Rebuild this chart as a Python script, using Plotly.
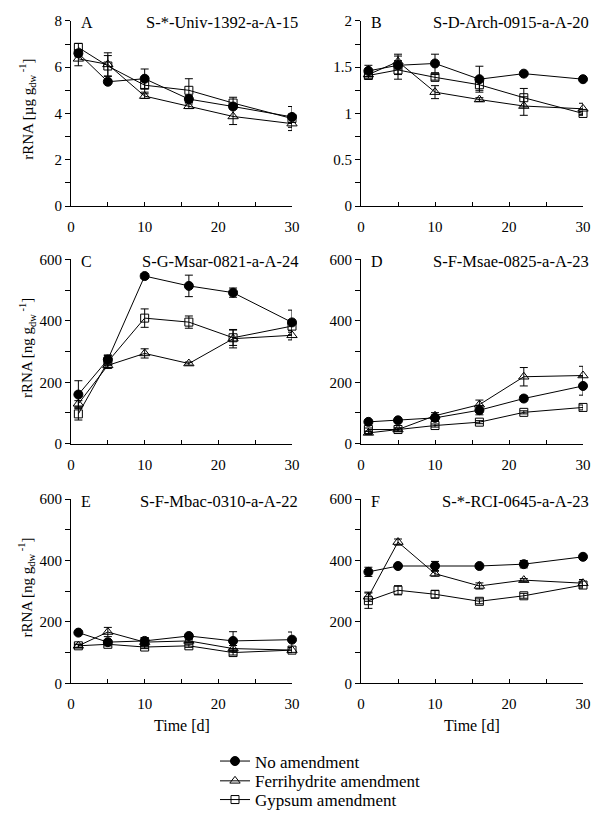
import plotly.graph_objects as go

days = [1, 5, 10, 16, 22, 30]
series_names = ["No amendment", "Ferrihydrite amendment", "Gypsum amendment"]
panel_letters = ["A", "B", "C", "D", "E", "F"]
panel_probes = ["S-*-Univ-1392-a-A-15", "S-D-Arch-0915-a-A-20", "S-G-Msar-0821-a-A-24",
                "S-F-Msae-0825-a-A-23", "S-F-Mbac-0310-a-A-22", "S-*-RCI-0645-a-A-23"]

# Panel A (ug / g dw)
A_none = [6.6, 5.37, 5.5, 4.62, 4.3, 3.85]
A_none_err = [0.15, 0.05, 0.42, 0.15, 0.1, 0.45]
A_ferri = [6.36, 6.12, 4.75, 4.31, 3.87, 3.56]
A_ferri_err = [0.3, 0.5, 0.1, 0.1, 0.35, 0.3]
A_gyps = [6.85, 6.05, 5.22, 5.0, 4.45, 3.78]
A_gyps_err = [0.18, 0.45, 0.3, 0.5, 0.25, 0.2]

# Panel B (ug / g dw)
B_none = [1.46, 1.52, 1.54, 1.37, 1.43, 1.37]
B_none_err = [0.06, 0.1, 0.1, 0.14, 0.02, 0.02]
B_ferri = [1.42, 1.56, 1.23, 1.15, 1.08, 1.05]
B_ferri_err = [0.02, 0.08, 0.07, 0.02, 0.1, 0.06]
B_gyps = [1.41, 1.47, 1.39, 1.31, 1.17, 1.0]
B_gyps_err = [0.03, 0.1, 0.03, 0.06, 0.1, 0.02]

# Panel C (ng / g dw)
C_none = [160, 274, 546, 514, 492, 395]
C_none_err = [45, 15, 8, 35, 15, 40]
C_ferri = [130, 255, 294, 261, 342, 353]
C_ferri_err = [10, 10, 15, 5, 30, 15]
C_gyps = [97, 267, 409, 396, 345, 383]
C_gyps_err = [20, 20, 30, 20, 25, 20]

# Panel D (ng / g dw)
D_none = [71, 76, 84, 109, 147, 188]
D_none_err = [5, 5, 10, 15, 8, 30]
D_ferri = [35, 46, 91, 127, 218, 222]
D_ferri_err = [5, 5, 10, 15, 30, 30]
D_gyps = [46, 46, 59, 70, 102, 118]
D_gyps_err = [5, 5, 5, 5, 5, 8]

# Panel E (ng / g dw)
E_none = [165, 134, 138, 154, 138, 142]
E_none_err = [5, 5, 10, 5, 30, 25]
E_ferri = [122, 167, 134, 138, 113, 108]
E_ferri_err = [5, 15, 15, 5, 10, 8]
E_gyps = [122, 127, 118, 122, 100, 108]
E_gyps_err = [5, 5, 5, 5, 8, 8]

# Panel F (ng / g dw)
F_none = [363, 382, 382, 382, 388, 412]
F_none_err = [15, 5, 15, 5, 12, 5]
F_ferri = [282, 460, 357, 317, 336, 326]
F_ferri_err = [15, 10, 8, 10, 5, 12]
F_gyps = [269, 303, 290, 267, 285, 320]
F_gyps_err = [25, 15, 12, 8, 8, 10]

y_max = [8, 2, 600, 600, 600, 600]
y_dtick = [2, 0.5, 200, 200, 200, 200]
y_titles = ["rRNA [µg g<sub>dw</sub><sup> -1</sup>]", None,
            "rRNA [ng g<sub>dw</sub><sup> -1</sup>]", None,
            "rRNA [ng g<sub>dw</sub><sup> -1</sup>]", None]
x_title = "Time [d]"

panels = [
    (A_none, A_none_err, A_ferri, A_ferri_err, A_gyps, A_gyps_err),
    (B_none, B_none_err, B_ferri, B_ferri_err, B_gyps, B_gyps_err),
    (C_none, C_none_err, C_ferri, C_ferri_err, C_gyps, C_gyps_err),
    (D_none, D_none_err, D_ferri, D_ferri_err, D_gyps, D_gyps_err),
    (E_none, E_none_err, E_ferri, E_ferri_err, E_gyps, E_gyps_err),
    (F_none, F_none_err, F_ferri, F_ferri_err, F_gyps, F_gyps_err),
]

# page has an 8px body margin; figure sized to fit the 603x826 window
OFF = 8
W, H = 587, 810
FONT = "Liberation Serif"


def px_x(p):
    return (p - OFF) / W


def px_y(p):
    return 1 - (p - OFF) / H


xdom = [[px_x(71), px_x(292)], [px_x(361), px_x(583)]]
ydom = [[px_y(208), px_y(21)], [px_y(448), px_y(262)], [px_y(690), px_y(504)]]
legend_rows = [769, 789, 808]
legend_keys = ["legend", "legend2", "legend3"]

marker_styles = [
    dict(symbol="circle", size=9, color="black", line=dict(color="black", width=1)),
    dict(symbol="triangle-up-open", size=9, color="black", line=dict(color="black", width=1)),
    dict(symbol="square-open", size=8, color="black", line=dict(color="black", width=1)),
]

fig = go.Figure()
layout = dict(
    width=W, height=H,
    margin=dict(l=0, r=0, t=0, b=0),
    paper_bgcolor="white", plot_bgcolor="white",
    font=dict(family=FONT, size=16, color="black"),
    showlegend=True,
)
for k, yrow in zip(legend_keys, legend_rows):
    layout[k] = dict(x=px_x(215), y=px_y(yrow), xanchor="left", yanchor="middle",
                     font=dict(family=FONT, size=17, color="black"),
                     bgcolor="rgba(0,0,0,0)", itemwidth=30, borderwidth=0)

annotations = []

for i, p in enumerate(panels):
    idx = i + 1
    col = i % 2
    row = i // 2
    xa = "x" if idx == 1 else f"x{idx}"
    ya = "y" if idx == 1 else f"y{idx}"
    vals = [(p[0], p[1]), (p[2], p[3]), (p[4], p[5])]
    for s, (v, e) in enumerate(vals):
        fig.add_trace(go.Scatter(
            x=days, y=v, xaxis=xa, yaxis=ya,
            mode="lines+markers",
            name=series_names[s],
            showlegend=(i == 0),
            legend=legend_keys[s],
            line=dict(color="black", width=1),
            marker=marker_styles[s],
            error_y=dict(type="data", array=e, visible=True, color="black", thickness=1, width=4),
            cliponaxis=False,
        ))
    xkey = "xaxis" if idx == 1 else f"xaxis{idx}"
    ykey = "yaxis" if idx == 1 else f"yaxis{idx}"
    layout[xkey] = dict(
        domain=xdom[col], anchor=ya, range=[0, 30], dtick=10, tick0=0,
        showline=True, linecolor="black", linewidth=1, mirror=False,
        ticks="inside", ticklen=4, tickcolor="black", showgrid=False, zeroline=False,
        minor=dict(dtick=5, ticks="inside", ticklen=4, tickcolor="black", showgrid=False),
        tickfont=dict(family=FONT, size=15, color="black"),
        ticklabelstandoff=7, automargin=False,
    )
    layout[ykey] = dict(
        domain=ydom[row], anchor=xa, range=[0, y_max[i]], dtick=y_dtick[i], tick0=0,
        showline=True, linecolor="black", linewidth=1,
        ticks="outside", ticklen=5, tickcolor="black", showgrid=False, zeroline=False,
        minor=dict(dtick=y_dtick[i] / 2, ticks="outside", ticklen=5, tickcolor="black", showgrid=False),
        tickfont=dict(family=FONT, size=15, color="black"),
        automargin=False,
    )
    if y_titles[i]:
        annotations.append(dict(
            text=y_titles[i], textangle=-90, xref="paper", yref=f"{ya} domain",
            x=px_x(27), y=0.52, xanchor="center", yanchor="middle", showarrow=False,
            font=dict(family=FONT, size=15, color="black"),
        ))
    if row == 2:
        annotations.append(dict(
            text=x_title, xref=f"{xa} domain", yref="paper",
            x=0.5, y=px_y(733), xanchor="center", yanchor="middle", showarrow=False,
            font=dict(family=FONT, size=16, color="black"),
        ))
    annotations.append(dict(
        text=panel_letters[i], xref=f"{xa} domain", yref=f"{ya} domain",
        x=0.035, y=1, xanchor="left", yanchor="middle", yshift=-2, showarrow=False,
        font=dict(family=FONT, size=16, color="black"),
    ))
    annotations.append(dict(
        text=panel_probes[i], xref=f"{xa} domain", yref=f"{ya} domain",
        x=1, y=1, xanchor="right", yanchor="middle", xshift=8, yshift=-2, showarrow=False,
        font=dict(family=FONT, size=16.5, color="black"),
    ))

layout["annotations"] = annotations
fig.update_layout(**layout)
fig.write_html("out.html")
